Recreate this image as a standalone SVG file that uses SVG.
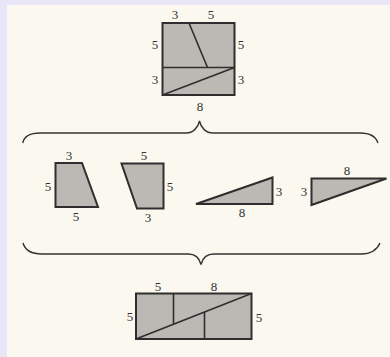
<svg xmlns="http://www.w3.org/2000/svg" width="390" height="357" viewBox="0 0 390 357">
<style>
.bg{fill:#e9e7f7}
.page{fill:#fbf8ef}
.shape{fill:#bcb9b4;stroke:#2e2e2e;stroke-width:2;stroke-linejoin:miter}
.cut{fill:none;stroke:#2e2e2e;stroke-width:1.6}
.brace{fill:none;stroke:#333;stroke-width:1.4}
.lbl{font-family:'Liberation Serif','DejaVu Serif',serif;font-size:13px;fill:#333;text-anchor:middle}
</style>
<rect class="bg" x="0" y="0" width="390" height="357"/>
<rect class="page" x="7" y="5" width="383" height="352"/>

<g id="square">
<rect class="shape" x="162.5" y="23" width="72" height="72"/>
<line class="cut" x1="162.5" y1="67.5" x2="234.5" y2="67.5"/>
<line class="cut" x1="189" y1="23" x2="207.5" y2="67.5"/>
<line class="cut" x1="162.5" y1="95" x2="234.5" y2="67.5"/>
<text class="lbl" font-family="Liberation Serif, serif" x="175" y="19">3</text>
<text class="lbl" font-family="Liberation Serif, serif" x="211" y="19">5</text>
<text class="lbl" font-family="Liberation Serif, serif" x="155" y="49">5</text>
<text class="lbl" font-family="Liberation Serif, serif" x="241" y="49">5</text>
<text class="lbl" font-family="Liberation Serif, serif" x="155" y="84">3</text>
<text class="lbl" font-family="Liberation Serif, serif" x="241" y="84">3</text>
<text class="lbl" font-family="Liberation Serif, serif" x="200" y="111">8</text>
</g>

<g id="connectors">
<path class="brace" d="M22.7,143 C24,137 30,133 40,133 L186,133 C193,133 198,128 199.5,121 C201,128 206,133 213,133 L360,133 C370,133 376,137 378,143"/>
<path class="brace" d="M23,243 C25,250 31,254 42,254 L188,254 C195,254 199.5,258 201,264.5 C202.5,258 207,254 214,254 L361,254 C371,254 377,250 380,243"/>
</g>

<g id="trapezoid1">
<polygon class="shape" points="55.5,163 82,163 98,207 55.5,207"/>
<text class="lbl" font-family="Liberation Serif, serif" x="69" y="160">3</text>
<text class="lbl" font-family="Liberation Serif, serif" x="48" y="191">5</text>
<text class="lbl" font-family="Liberation Serif, serif" x="76" y="221">5</text>
</g>

<g id="trapezoid2">
<polygon class="shape" points="121.5,163.5 163.5,163.5 163.5,208.5 137,208.5"/>
<text class="lbl" font-family="Liberation Serif, serif" x="144" y="160">5</text>
<text class="lbl" font-family="Liberation Serif, serif" x="170" y="191">5</text>
<text class="lbl" font-family="Liberation Serif, serif" x="148" y="222">3</text>
</g>

<g id="triangle1">
<polygon class="shape" points="196,204 272.5,177.5 272.5,204"/>
<text class="lbl" font-family="Liberation Serif, serif" x="279" y="196">3</text>
<text class="lbl" font-family="Liberation Serif, serif" x="242" y="217">8</text>
</g>

<g id="triangle2">
<polygon class="shape" points="311.5,178.5 386.5,178.5 311.5,205"/>
<text class="lbl" font-family="Liberation Serif, serif" x="347" y="175">8</text>
<text class="lbl" font-family="Liberation Serif, serif" x="304" y="196">3</text>
</g>

<g id="rectangle">
<rect class="shape" x="136" y="293.5" width="115.5" height="45.5"/>
<line class="cut" x1="136" y1="339" x2="251.5" y2="293.5"/>
<line class="cut" x1="173.5" y1="293.5" x2="173.5" y2="324.2"/>
<line class="cut" x1="204.5" y1="312" x2="204.5" y2="339"/>
<text class="lbl" font-family="Liberation Serif, serif" x="158" y="291">5</text>
<text class="lbl" font-family="Liberation Serif, serif" x="214" y="291">8</text>
<text class="lbl" font-family="Liberation Serif, serif" x="130" y="321">5</text>
<text class="lbl" font-family="Liberation Serif, serif" x="259" y="322">5</text>
</g>
</svg>
